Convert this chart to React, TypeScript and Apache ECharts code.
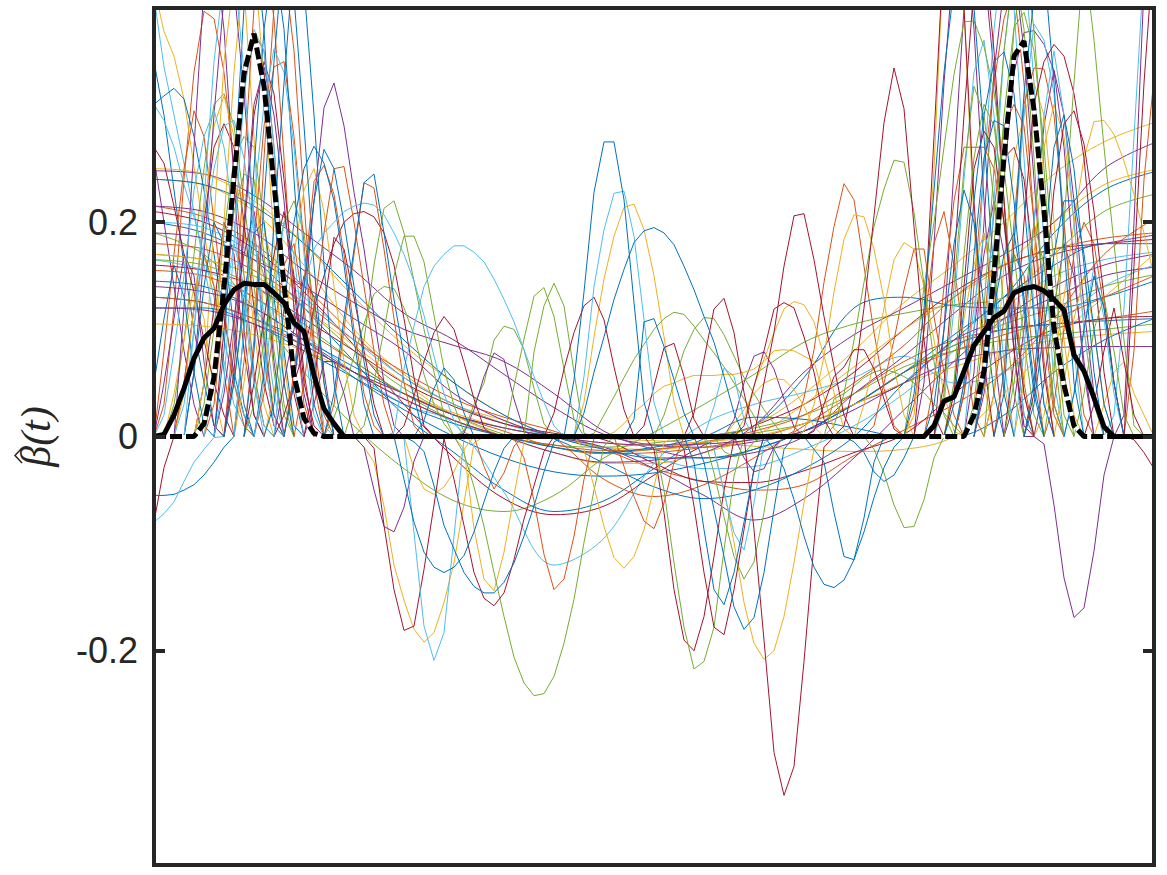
import React, { useEffect, useRef } from "react";
import * as echarts from "echarts";

const yTicks = [-0.2, 0, 0.2];
const yLabel = "β(t)";
const palette = ["#0072BD", "#D95319", "#EDB120", "#7E2F8E", "#77AC30", "#4DBEEE", "#A2142F"];

// Long curves, sampled every five steps along t
const broadGrid = [0, 5, 10, 15, 20, 25, 30, 35, 40, 45, 50, 55, 60, 65, 70, 75, 80, 85, 90, 95, 100];

const blueBroad = [
  [.2, .19, .165, .12, .07, .02, -.015, -.05, -.07, -.06, -.03, -.002, .01, .055, .12, .13, .122, .12, .12, .13, .145],
  [.145, .14, .12, .09, .055, .025, 0, -.02, -.033, -.037, -.034, -.025, -.012, .005, .03, .06, .085, .1, .105, .108, .11],
  [.13, .125, .11, .09, .065, .04, .02, .008, -.002, -.025, -.047, -.058, -.05, -.03, 0, .05, .09, .13, .16, .18, .18],
  [.24, .235, .215, .18, .135, .09, .05, .02, 0, -.012, -.02, -.02, -.012, .005, .03, .06, .095, .13, .19, .23, .247],
  [.12, .12, .105, .08, .055, .03, .012, 0, -.01, -.015, -.01, 0, .018, .016, .008, 0, 0, .02, .06, .09, .11],
];
const redBroad = [
  [.215, .205, .18, .14, .095, .055, .03, .012, -.002, -.04, -.056, -.045, -.02, .01, .04, .07, .09, .1, .105, .11, .117],
  [.18, .175, .155, .125, .09, .06, .035, .018, .005, -.012, -.03, -.042, -.05, -.045, -.018, .006, .03, .06, .11, .17, .203],
  [.155, .15, .13, .1, .07, .04, .02, .005, -.01, -.016, -.015, -.01, -.002, .012, .03, .06, .08, .095, .11, .13, .15],
  [.13, .125, .11, .085, .06, .035, .015, 0, -.008, -.013, -.012, -.005, .005, .02, .05, .085, .13, .16, .175, .185, .19],
];
const orangeBroad = [
  [.24, .235, .21, .16, .1, .058, .03, .015, 0, -.002, -.004, -.006, -.009, -.012, -.014, -.012, 0, .04, .09, .13, .17],
  [.25, .245, .22, .18, .13, .085, .05, .02, 0, -.01, -.012, -.006, .01, .04, .08, .125, .16, .2, .245, .275, .293],
  [.17, .165, .15, .12, .085, .05, .02, 0, -.015, -.025, -.025, -.015, 0, .03, .065, .1, .13, .16, .2, .235, .249],
  [.105, .103, .095, .08, .06, .04, .022, .008, 0, -.006, -.008, -.005, 0, .012, .03, .05, .065, .08, .09, .095, .098],
];
const purpleBroad = [
  [.248, .245, .225, .19, .155, .115, .09, .058, .027, .002, -.008, -.01, -.005, .005, .03, .05, .09, .11, .13, .15, .158],
  [.215, .21, .19, .155, .125, .1, .085, .07, .04, .005, -.012, -.02, -.015, 0, .04, .075, .115, .15, .17, .18, .188],
  [.19, .185, .165, .14, .11, .08, .04, .015, 0, -.01, -.03, -.055, -.078, -.058, -.02, .025, .07, .11, .14, .16, .17],
  [.14, .135, .12, .09, .06, .035, .015, 0, -.015, -.024, -.022, -.015, .01, .06, .095, .12, .145, .17, .2, .25, .274],
  [.12, .118, .105, .085, .06, .04, .02, .008, 0, -.006, -.008, -.007, -.003, .005, .025, .05, .07, .08, .083, .084, .084],
];
const greenBroad = [
  [.19, .17, .12, .06, .01, -.03, -.06, -.07, -.055, -.02, .004, .03, .058, .088, .105, .115, .123, .13, .17, .21, .226],
  [.17, .165, .15, .12, .08, .045, .02, .002, -.01, -.015, -.012, -.006, .003, .012, .03, .06, .085, .105, .12, .14, .151],
  [.165, .16, .14, .105, .07, .04, .015, 0, -.008, -.01, -.006, 0, .008, .02, .04, .065, .08, .09, .095, .1, .105],
];
const cyanBroad = [
  [.165, .155, .13, .095, .06, .03, .012, -.052, -.12, -.095, -.025, .012, .03, .041, .055, .075, .05, .06, .1, .14, .16],
  [.2, .195, .17, .13, .09, .055, .03, .012, 0, -.01, -.02, -.03, -.028, -.012, .01, .04, .08, .12, .15, .165, .172],
];
const crimsonBroad = [
  [.21, .2, .175, .135, .085, .03, -.02, -.058, -.073, -.065, -.036, -.008, .01, .03, .06, .1, .135, .16, .175, .18, .184],
  [.16, .155, .14, .11, .08, .05, .028, .012, .003, -.003, -.025, -.042, -.043, -.032, -.015, .002, .04, .075, .1, .11, .112],
];

// Short curves: the first number is the t step where the curve starts
const blueSpikes = [
  [0, .35, .3, .23, .16, .1, .05, .01],
  [0, .31, .318, .325, .315, .28, .23, .17, .11, .06, .02],
  [0, -.055, -.055, -.054, -.05, -.045, -.036, -.024, -.01, 0],
  [0, .05, .11, .16, .13, .06, .01],
  [4, .06, .14, .2, .18, .1, .03],
  [7, .08, .24, .4, .47, .38, .22, .08, .01],
  [8, .05, .13, .19, .2, .13, .05],
  [9, .1, .25, .38, .45, .38, .24, .11, .03],
  [10, .08, .22, .35, .46, .41, .29, .16, .05],
  [11, .06, .2, .33, .45, .42, .3, .16, .05],
  [12, .03, .12, .2, .25, .271, .255, .22, .16, .09, .03],
  [14, .05, .14, .22, .268, .25, .2, .14, .07, .02],
  [18, .04, .11, .175, .237, .245, .19, .128, .075, .037, 0],
  [27, .015, .045, .064, .053, .022, 0],
  [24, 0, -.04, -.08, -.108, -.122, -.127, -.122, -.111, -.089, -.061, -.033, -.011, 0],
  [26, -.005, -.014, -.046, -.083, -.105, -.127, -.14, -.146, -.146, -.136, -.118, -.093, -.065, -.033, -.005],
  [41, 0, .053, .135, .228, .275, .275, .221, .125, .032, 0],
  [42, 0, .022, .06, .093, .128, .156, .181, .192, .195, .19, .179, .159, .137, .112, .088, .056, .022, 0],
  [47, 0, .016, .107, .11, .084, .053, .022, 0],
  [53, 0, -.024, -.087, -.143, -.157, -.127, -.08, -.031, 0],
  [54, 0, -.024, -.068, -.112, -.159, -.18, -.169, -.127, -.068, -.012, 0],
  [61, 0, -.012, -.03, -.059, -.093, -.122, -.138, -.141, -.134, -.115, -.089, -.057, -.029, -.01, 0],
  [65, 0, -.012, -.024, -.071, -.112, -.115, -.076, -.024, 0],
  [70, -.005, -.015, -.033, -.042, -.036, -.02, 0],
  [76, .04, .12, .23, .34, .42, .46, .4, .28, .15, .04],
  [78, .03, .1, .18, .23, .2, .12, .04],
  [80, .03, .12, .22, .3, .35, .359, .32, .22, .11, .03],
  [81, .05, .17, .26, .295, .29, .22, .12, .04],
  [83, .05, .12, .17, .19, .13, .05],
  [85, .04, .18, .32, .41, .44, .33, .18, .05],
  [88, .05, .17, .27, .3, .25, .16, .06],
  [88, .03, .1, .17, .22, .22, .17, .1, .03],
  [92, .04, .1, .15, .12, .05],
];
const redSpikes = [
  [1, .03, .12, .24, .34, .397, .39, .34, .25, .15, .06, .01],
  [1, .08, .17, .25, .304, .28, .2, .12, .05, .01],
  [3, .05, .12, .17, .14, .06],
  [6, .03, .12, .25, .34, .376, .36, .27, .15, .05],
  [8, .1, .25, .4, .46, .39, .26, .12, .03],
  [9, .07, .18, .29, .345, .35, .28, .18, .08],
  [10, .09, .26, .4, .44, .36, .22, .09, .02],
  [11, .04, .1, .16, .18, .12, .05],
  [14, .06, .144, .238, .253, .226, .17, .1, .04, .01],
  [15, .05, .12, .19, .25, .252, .2, .14, .08, .03],
  [18, .03, .1, .17, .237, .232, .175, .11, .05, .01],
  [32, 0, -.028, -.049, -.034, -.009, 0],
  [36, -.002, -.02, -.06, -.11, -.143, -.133, -.093, -.04, -.002],
  [46, 0, -.028, -.056, -.079, -.086, -.062, -.024, 0],
  [64, .005, .036, .081, .144, .196, .236, .221, .159, .097, .045, .01],
  [72, .01, .05, .09, .137, .175, .175, .112, .06, .02],
  [76, .03, .1, .18, .21, .16, .09, .02],
  [78, .05, .14, .22, .27, .27, .27, .25, .2, .13, .05],
  [81, .04, .14, .25, .33, .39, .42, .33, .2, .07],
  [82, .02, .1, .21, .29, .31, .29, .2, .1, .02],
  [84, .04, .11, .17, .15, .07],
  [85, .06, .2, .31, .344, .343, .3, .2, .09, .02],
  [90, .03, .1, .17, .2, .18, .12, .05],
  [97, 0, .08, .24, .335],
];
const orangeSpikes = [
  [0, .42, .378, .355, .315, .252, .19, .14, .09, .05, .02, 0],
  [2, .04, .09, .14, .11, .04],
  [3, .04, .12, .21, .29, .318, .28, .19, .1, .03],
  [5, .05, .2, .35, .43, .42, .28, .1, .02],
  [6, .06, .2, .34, .44, .45, .33, .18, .05],
  [9, .05, .12, .19, .16, .07],
  [12, .04, .1, .17, .23, .25, .21, .14, .07, .02],
  [21, -.01, -.024, -.065, -.12, -.153, -.18, -.192, -.183, -.155, -.118, -.062, -.006, 0],
  [26, -.03, -.049, -.054, -.047, -.033, -.012, 0],
  [31, -.012, -.086, -.133, -.144, -.108, -.055, -.005],
  [42, 0, .032, .093, .147, .187, .214, .217, .193, .15, .093, .032, 0],
  [43, -.012, -.047, -.084, -.113, -.123, -.112, -.087, -.047, -.006],
  [46, .004, .012, .023, .03, .04, .047, .05, .054, .057, .057, .057, .058, .058, .06, .063, .07, .08, .081, .08, .075, .07, .037, .007],
  [56, -.012, -.05, -.099, -.155, -.193, -.208, -.2, -.168, -.118, -.062, -.012],
  [58, .012, .025, .04, .05, .054, .053, .044, .028, .009],
  [59, .016, .047, .072, .097, .119, .126, .123, .107, .075, .041, .007],
  [65, .005, .03, .075, .135, .184, .207, .205, .175, .128, .065, .02],
  [71, .03, .07, .12, .165, .181, .175, .14, .09, .04, .005],
  [76, .02, .1, .25, .46, .55, .4, .2, .05],
  [80, .05, .11, .16, .19, .13, .05],
  [84, .04, .16, .26, .3, .33, .3, .2, .09, .02],
  [87, .05, .17, .27, .31, .28, .2, .1, .03],
  [89, .02, .07, .13, .2, .26, .294, .295, .282, .257, .226, .19, .15],
  [91, .05, .11, .15, .1, .03],
  [95, .03, .06, .07, .04, .02],
];
const purpleSpikes = [
  [0, .26, .2, .14, .08, .03],
  [1, .05, .11, .17, .15, .07, .01],
  [3, .12, .27, .42, .46, .38, .24, .1, .02],
  [4, .06, .17, .3, .41, .42, .32, .2, .09, .02],
  [7, .04, .11, .17, .21, .16, .07],
  [8, .08, .2, .31, .345, .3, .22, .12, .04],
  [13, .05, .1, .15, .13, .06],
  [14, .05, .12, .22, .307, .33, .29, .228, .175, .112, .05, .01],
  [16, .03, .07, .07, .04, 0, -.01, -.05, -.084, -.089, -.066, -.023, 0],
  [31, .003, .025, .056, .078, .072, .035, .005],
  [58, .016, .05, .075, .079, .063, .035, .009],
  [59, -.02, -.033, -.03, -.01],
  [77, .05, .18, .33, .45, .5, .38, .22, .08],
  [79, .1, .25, .4, .47, .44, .34, .22, .1, .02],
  [81, .04, .1, .17, .22, .17, .08],
  [82, .06, .2, .34, .42, .44, .36, .24, .12, .03],
  [83, .04, .13, .24, .34, .377, .379, .366, .341, .27, .16, .06],
  [86, .03, .1, .2, .29, .342, .3, .22, .12, .04],
  [87, 0, 0, -.007, -.064, -.132, -.169, -.16, -.107, -.036, 0],
  [89, .05, .12, .18, .15, .07],
  [97, .02, .2, .42, .6],
];
const greenSpikes = [
  [2, .03, .09, .17, .25, .31, .32, .29, .22, .14, .07, .02],
  [5, .03, .1, .19, .26, .28, .27, .2, .11, .03],
  [6, .05, .14, .21, .245, .24, .17, .08, .02],
  [8, .05, .12, .18, .15, .06],
  [10, .03, .09, .15, .2, .22, .19, .12, .05],
  [18, .018, .043, .075, .105, .133, .14, .138, .12, .095, .058, .03, .012],
  [20, .03, .09, .16, .213, .22, .19, .145, .1, .06, .02, 0],
  [21, .01, .05, .1, .15, .187, .187, .163, .113, .063, .029, .004],
  [31, .005, .03, .05, .09, .103, .1, .081, .045, .012],
  [31, -.016, -.047, -.084, -.127, -.168, -.206, -.23, -.242, -.24, -.224, -.193, -.152, -.099, -.05, -.009],
  [36, .047, .091, .131, .139, .112, .063, .016],
  [38, .079, .122, .143, .122, .06, .003],
  [44, .003, .02, .037, .055, .072, .086, .1, .11, .116, .114, .103, .09, .078, .065, .05, .035, .019, 0],
  [50, 0, .02, .05, .08, .1, .111, .11, .095, .075, .055, .04, .025, .012, 0],
  [50, -.003, -.05, -.118, -.178, -.217, -.21, -.178, -.106, -.037, 0],
  [55, 0, -.034, -.075, -.112, -.133, -.117, -.071, -.012],
  [57, -.014, -.019, -.016, -.005],
  [68, .035, .04, .047, .055, .06, .063, .06, .056, .05, .041, .03, .022, .01, 0],
  [68, .01, .04, .09, .144, .196, .231, .258, .256, .209, .142, .07, .02],
  [71, 0, -.012, -.034, -.064, -.085, -.084, -.059, -.02, 0],
  [76, .06, .14, .2, .27, .338, .387, .388, .364, .322, .25, .17, .09, .02],
  [79, .04, .14, .25, .327, .3, .22, .12, .04],
  [80, .05, .17, .26, .31, .29, .22, .12, .04],
  [82, .03, .12, .25, .36, .44, .38, .26, .12, .03],
  [83, .05, .18, .3, .382, .396, .36, .27, .16, .06],
  [84, .1, .25, .38, .45, .38, .25, .11, .02],
  [86, .05, .12, .2, .16, .08],
  [90, .06, .2, .33, .45, .37, .27, .18, .09, .01],
  [93, .04, .1, .13, .08, .02],
];
const cyanSpikes = [
  [0, .41, .345, .3, .255, .21, .16, .11, .07, .03, .01],
  [0, .31, .295, .27, .235, .205, .17, .13, .09, .05, .02],
  [0, -.08, -.072, -.061, -.042, -.024, -.012, -.001],
  [1, .02, .08, .15, .23, .28, .305, .27, .2, .12, .05, .01],
  [3, .03, .1, .18, .25, .29, .295, .26, .19, .11, .04],
  [4, .1, .22, .35, .43, .44, .34, .2, .08, .01],
  [6, .05, .12, .18, .14, .05],
  [7, .05, .18, .32, .38, .36, .27, .15, .05],
  [9, .1, .22, .31, .362, .34, .27, .17, .07, .01],
  [11, .05, .13, .2, .17, .09, .02],
  [13, .09, .115, .14, .175, .19, .2, .21, .215, .218, .216, .207, .19, .17, .145, .113, .075, .04, .015],
  [24, .004, .063, .103, .14, .159, .17, .178, .178, .172, .163, .147, .128, .107, .081, .056, .032, .01],
  [25, -.002, -.09, -.177, -.209, -.183, -.093, -.002],
  [42, 0, .056, .14, .193, .227, .229, .187, .109, .032, 0],
  [55, 0, .028, .064, .056, .016, 0],
  [55, 0, -.012, -.052, -.09, -.106, -.062, -.006],
  [79, .03, .12, .24, .34, .37, .3, .2, .1, .02],
  [81, .05, .12, .19, .16, .07],
  [82, .1, .25, .38, .46, .4, .26, .12, .03],
  [83, .07, .22, .36, .44, .45, .33, .18, .05],
  [85, .06, .18, .3, .385, .37, .32, .2, .08],
  [87, .08, .2, .3, .36, .3, .2, .1, .03],
  [92, .04, .1, .16, .11, .04],
  [96, .02, .12, .28, .44, .6],
];
const crimsonSpikes = [
  [0, -.08, -.029, 0, .05, .12, .2, .27, .292, .27, .2, .12, .05, .01],
  [0, .27, .255, .215, .17, .135, .09, .05, .02],
  [5, .05, .12, .2, .17, .08, .02],
  [7, .1, .22, .33, .37, .34, .25, .13, .04],
  [8, .06, .19, .3, .35, .32, .24, .14, .05, .01],
  [10, .05, .11, .17, .21, .15, .06],
  [13, .02, .05, .08, .12, .15, .18, .2, .208, .21, .205, .19, .16, .11, .055, .01],
  [16, .05, .12, .186, .175, .13, .08, .03],
  [22, -.011, -.083, -.143, -.181, -.177, -.124, -.064, -.002],
  [25, .01, .038, .07, .097, .112, .1, .069, .035, .008],
  [29, -.002, -.04, -.083, -.127, -.151, -.158, -.146, -.115, -.077, -.046, -.014],
  [40, .022, .063, .097, .122, .13, .109, .065, .025, 0],
  [49, .01, .047, .083, .087, .056, .016, 0],
  [50, -.012, -.071, -.143, -.19, -.2, -.168, -.112, -.05, -.003],
  [53, -.012, -.065, -.127, -.178, -.185, -.143, -.087, -.03, 0],
  [54, .022, .072, .119, .129, .097, .041, 0],
  [59, 0, -.087, -.19, -.295, -.335, -.308, -.21, -.1, -.01],
  [59, .01, .047, .08, .119, .125, .12, .093, .06, .016],
  [61, .05, .097, .159, .206, .208, .165, .112, .065, .02],
  [66, .005, .03, .056, .065, .081, .081, .063, .035, .007],
  [69, .01, .05, .12, .206, .293, .344, .306, .196, .09, .02],
  [77, .1, .28, .46, .55, .4, .22, .07],
  [79, .05, .16, .3, .42, .46, .36, .22, .08, .01],
  [80, .04, .14, .25, .285, .27, .2, .12, .04],
  [83, .05, .16, .26, .27, .24, .16, .06],
  [86, .07, .2, .31, .35, .366, .355, .32, .26, .16, .06],
  [88, .04, .13, .23, .292, .304, .273, .21, .13, .05],
  [94, .03, .08, .12, .07, .02],
  [97, 0, .16, .33, .46],
  [98, -.003, -.015, -.03],
];

// The two bold curves, as humps over an otherwise zero baseline
const trueBetaLeft = [4, 0, .012, .055, .139, .242, .339, .376, .327, .236, .142, .057, .017, .003, 0];
const trueBetaRight = [81, 0, .02, .061, .151, .261, .355, .369, .305, .211, .101, .048, .01, 0];
const meanLeft = [0, 0, .002, .02, .045, .073, .092, .101, .123, .137, .143, .142, .142, .134, .125, .106, .098, .057, .026, .012, 0];
const meanRight = [77, 0, .01, .033, .037, .061, .085, .098, .111, .117, .134, .138, .14, .136, .128, .118, .076, .061, .036, .009, 0];

const colourGroups = [
  [blueBroad, blueSpikes],
  [redBroad, redSpikes],
  [orangeBroad, orangeSpikes],
  [purpleBroad, purpleSpikes],
  [greenBroad, greenSpikes],
  [cyanBroad, cyanSpikes],
  [crimsonBroad, crimsonSpikes],
];

const fromStart = (c: number[]) => c.slice(1).map((v, k) => [c[0] + k, v]);
const fromGrid = (c: number[]) => c.map((v, k) => [broadGrid[k], v]);
// A short curve lifts off the zero baseline and settles back on it
const spikePoints = (c: number[]) => {
  const pts = fromStart(c);
  const first = pts[0];
  const last = pts[pts.length - 1];
  const head = first[0] > 0 && first[1] !== 0 ? [[first[0] - 1, 0]] : [];
  const tail = last[0] < 100 && last[1] !== 0 ? [[last[0] + 1, 0]] : [];
  return [...head, ...pts, ...tail];
};
const bold = (a: number[], b: number[]) => [[0, 0], ...fromStart(a), ...fromStart(b), [100, 0]];

function thinSeries() {
  const out: any[] = [];
  const base = { type: "line", showSymbol: false, silent: true, clip: true };
  for (let round = 0; round < 40; round++) {
    colourGroups.forEach(([broad, spikes], g) => {
      const style = { color: palette[g], width: 1 };
      if (broad[round]) out.push({ ...base, smooth: 0.35, data: fromGrid(broad[round]), lineStyle: style, itemStyle: { color: palette[g] } });
      if (spikes[round]) out.push({ ...base, data: spikePoints(spikes[round]), lineStyle: style, itemStyle: { color: palette[g] } });
    });
  }
  return out;
}

export default function App() {
  const ref = useRef<HTMLDivElement>(null);
  useEffect(() => {
    const chart = echarts.init(ref.current!, undefined, { renderer: "svg" });
    const ink = "#262626";
    const frame = { show: true, onZero: false, lineStyle: { color: ink, width: 4, cap: "square" } };
    const boldBase = { type: "line", showSymbol: false, silent: true, clip: true, z: 5 };
    chart.setOption({
      animation: false,
      backgroundColor: "#ffffff",
      grid: { left: 154, right: 13, top: 8, bottom: 10, containLabel: false, outerBoundsMode: "none" },
      xAxis: [
        { type: "value", min: 0, max: 100, position: "bottom", axisLine: frame, axisTick: { show: false }, axisLabel: { show: false }, splitLine: { show: false }, z: 10 },
        { type: "value", min: 0, max: 100, position: "top", axisLine: frame, axisTick: { show: false }, axisLabel: { show: false }, splitLine: { show: false }, z: 10 },
      ],
      yAxis: [
        {
          type: "value", min: -0.4, max: 0.4, interval: 0.2, position: "left", axisLine: frame, splitLine: { show: false }, z: 10,
          axisTick: { show: true, inside: true, length: 11, lineStyle: { color: ink, width: 4 }, customValues: yTicks },
          axisLabel: { show: true, fontFamily: "Liberation Sans", fontSize: 36, color: ink, margin: 16, customValues: yTicks },
          name: yLabel, nameLocation: "middle", nameGap: 97, nameRotate: 90,
          nameTextStyle: { fontFamily: "Liberation Serif", fontStyle: "italic", fontSize: 42, color: ink },
        },
        {
          type: "value", min: -0.4, max: 0.4, interval: 0.2, position: "right", axisLine: frame, splitLine: { show: false }, z: 10,
          axisTick: { show: true, inside: true, length: 11, lineStyle: { color: ink, width: 4 }, customValues: yTicks },
          axisLabel: { show: false },
        },
      ],
      graphic: [
        { type: "polyline", shape: { points: [[22, 448], [15, 455.5], [22, 463]] }, style: { stroke: ink, lineWidth: 1.5, fill: "none" } },
      ],
      series: [
        ...thinSeries(),
        { ...boldBase, data: bold(trueBetaLeft, trueBetaRight), lineStyle: { color: "#ffffff", width: 3 }, itemStyle: { color: "#ffffff" } },
        { ...boldBase, data: bold(trueBetaLeft, trueBetaRight), lineStyle: { color: "#000000", width: 5, type: [12, 4] }, itemStyle: { color: "#000000" } },
        { ...boldBase, data: bold(meanLeft, meanRight), lineStyle: { color: "#000000", width: 5 }, itemStyle: { color: "#000000" } },
      ],
    });
    return () => chart.dispose();
  }, []);
  return <div ref={ref} style={{ position: "absolute", left: 0, top: 0, width: 1167, height: 875 }} />;
}
